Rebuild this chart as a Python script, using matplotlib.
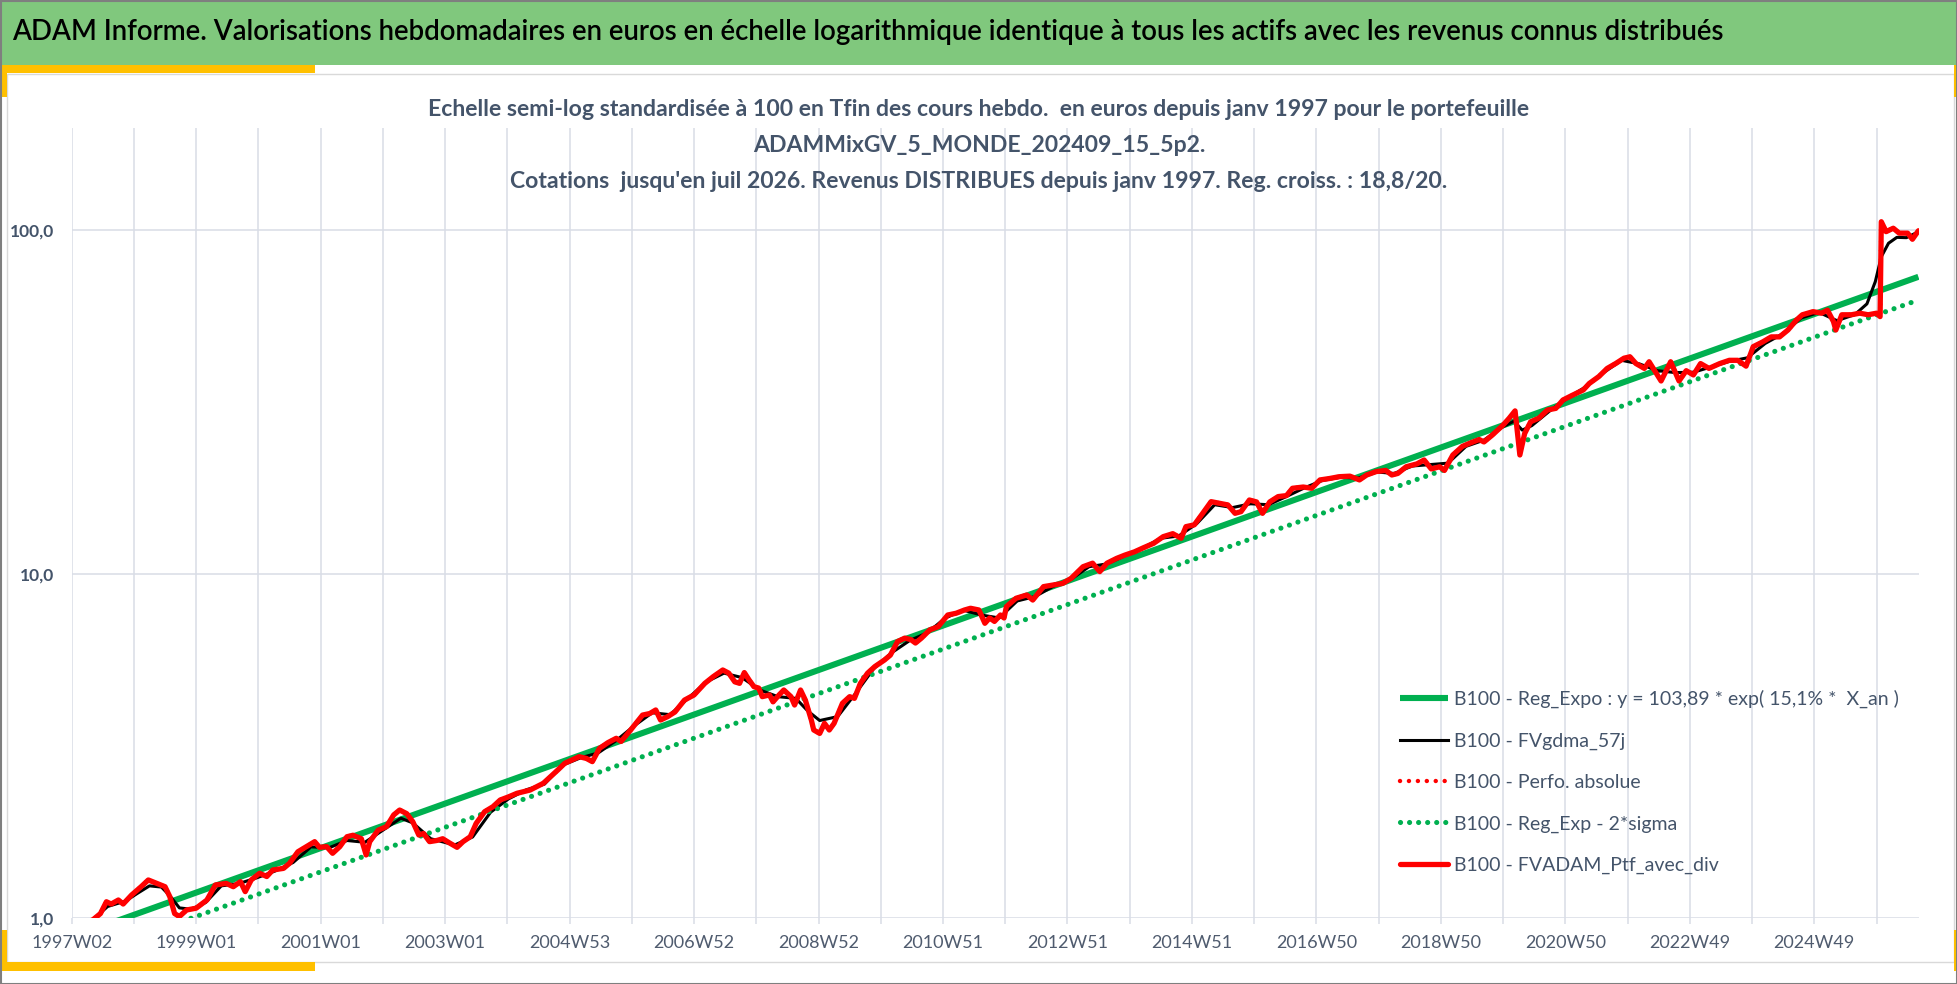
import matplotlib
matplotlib.use("Agg")
import matplotlib.pyplot as plt
from matplotlib.patches import Rectangle
from matplotlib.ticker import FixedLocator, FuncFormatter, NullLocator

W, H = 1958, 984

header_title = ("ADAM Informe. Valorisations hebdomadaires en euros en échelle logarithmique "
                "identique à tous les actifs avec les revenus connus distribués")
chart_title = [
    "Echelle semi-log standardisée à 100 en Tfin des cours hebdo.  en euros depuis janv 1997 pour le portefeuille",
    "ADAMMixGV_5_MONDE_202409_15_5p2.",
    "Cotations  jusqu'en juil 2026. Revenus DISTRIBUES depuis janv 1997. Reg. croiss. : 18,8/20.",
]

week_labels = ["1997W02", "1999W01", "2001W01", "2003W01", "2004W53", "2006W52", "2008W52",
               "2010W51", "2012W51", "2014W51", "2016W50", "2018W50", "2020W50", "2022W49",
               "2024W49"]
y_ticks = [1, 10, 100]

legend_labels = [
    "B100 - Reg_Expo : y = 103,89 * exp( 15,1% *  X_an )",
    "B100 - FVgdma_57j",
    "B100 - Perfo. absolue",
    "B100 - Reg_Exp - 2*sigma",
    "B100 - FVADAM_Ptf_avec_div",
]

# regression lines (straight on the log scale): first and last week
reg_weeks = [0, 1543]
reg_expo = [0.88, 73.1]
reg_sigma = [0.75, 62.6]

# portfolio, weekly index (week 0 = 1997W02)
ptf_weeks = [
    0, 8, 13, 18, 24, 29, 33, 39, 43, 50, 58, 64, 71, 78, 82, 86, 90, 96, 104, 113,
    120, 129, 135, 141, 145, 150, 157, 163, 168, 177, 182, 189, 196, 203, 207, 213, 218, 224, 230, 235,
    242, 246, 249, 256, 263, 269, 274, 280, 285, 290, 294, 299, 305, 310, 316, 322, 327, 333, 338, 345,
    352, 358, 365, 372, 383, 394, 406, 412, 424, 430, 435, 441, 448, 455, 459, 467, 477, 483, 488, 492,
    498, 504, 512, 520, 529, 536, 544, 549, 554, 558, 562, 566, 570, 574, 577, 583, 586, 591, 595, 601,
    604, 609, 613, 618, 620, 625, 629, 633, 637, 644, 650, 654, 659, 665, 671, 679, 684, 690, 696, 701,
    705, 710, 717, 724, 732, 739, 746, 751, 758, 763, 767, 771, 776, 779, 781, 789, 798, 803, 812, 820,
    828, 835, 845, 853, 859, 865, 873, 880, 888, 895, 904, 912, 920, 927, 931, 938, 945, 952, 959, 966,
    972, 977, 984, 990, 995, 1001, 1008, 1015, 1020, 1029, 1036, 1043, 1051, 1059, 1068, 1076, 1082, 1090, 1098, 1103,
    1108, 1115, 1124, 1130, 1136, 1143, 1147, 1154, 1162, 1168, 1176, 1180, 1187, 1196, 1201, 1206, 1210, 1214, 1219, 1226,
    1233, 1240, 1246, 1254, 1263, 1268, 1276, 1283, 1290, 1297, 1302, 1307, 1314, 1318, 1324, 1328, 1336, 1343, 1349, 1355,
    1361, 1368, 1377, 1385, 1392, 1399, 1405, 1413, 1420, 1427, 1434, 1441, 1446, 1455, 1462, 1467, 1472, 1474, 1479, 1487,
    1494, 1501, 1508, 1511, 1512, 1516, 1522, 1527, 1534, 1538, 1543,
]
ptf_values = [
    0.92, 0.95, 0.97, 0.99, 1.03, 1.115, 1.098, 1.128, 1.098, 1.166, 1.233, 1.29, 1.261, 1.233, 1.153, 1.03, 1.01, 1.055, 1.068, 1.128,
    1.247, 1.261, 1.233, 1.275, 1.193, 1.29, 1.349, 1.32, 1.379, 1.394, 1.442, 1.558, 1.612, 1.667, 1.605, 1.612, 1.542, 1.612, 1.723, 1.74,
    1.70, 1.525, 1.667, 1.80, 1.843, 1.993, 2.06, 2.01, 1.905, 1.743, 1.76, 1.667, 1.68, 1.70, 1.65, 1.605, 1.667, 1.723, 1.885, 2.037,
    2.107, 2.203, 2.25, 2.304, 2.355, 2.463, 2.69, 2.817, 2.944, 2.91, 2.848, 3.113, 3.234, 3.33, 3.26, 3.52, 3.89, 3.93, 4.025, 3.763,
    3.85, 3.97, 4.30, 4.45, 4.81, 5.03, 5.26, 5.15, 4.86, 4.81, 5.17, 4.92, 4.705, 4.66, 4.40, 4.45, 4.25, 4.45, 4.60, 4.40,
    4.16, 4.60, 4.30, 3.763, 3.52, 3.44, 3.68, 3.52, 3.68, 4.21, 4.40, 4.35, 4.81, 5.15, 5.38, 5.62, 5.81, 6.36, 6.51, 6.45,
    6.30, 6.51, 6.88, 7.03, 7.60, 7.69, 7.86, 7.95, 7.86, 7.19, 7.45, 7.28, 7.60, 7.45, 8.04, 8.50, 8.69, 8.40, 9.19, 9.29,
    9.39, 9.71, 10.5, 10.75, 10.16, 10.75, 11.1, 11.35, 11.6, 11.9, 12.28, 12.84, 13.1, 12.7, 13.73, 13.9, 15.01, 16.23, 16.06, 15.88,
    15.01, 15.18, 16.41, 16.2, 15.01, 16.2, 16.79, 16.9, 17.75, 17.9, 17.75, 18.77, 18.95, 19.18, 19.25, 18.77, 19.4, 19.85, 20.0, 19.4,
    19.6, 20.5, 20.9, 21.45, 20.2, 20.5, 20.0, 22.18, 23.5, 23.99, 24.6, 24.2, 25.35, 27.1, 28.35, 29.8, 22.18, 25.6, 27.7, 28.4,
    29.97, 30.3, 32.05, 33.1, 34.28, 35.8, 37.5, 39.6, 40.9, 42.4, 42.8, 40.9, 39.6, 41.4, 38.3, 36.4, 41.4, 36.4, 39.0, 37.9,
    40.9, 39.6, 40.9, 41.8, 41.8, 40.2, 45.8, 47.3, 48.9, 48.9, 51.2, 54.7, 56.7, 57.9, 57.3, 58.5, 54.2, 51.2, 56.7, 56.7,
    57.3, 56.7, 57.3, 56.0, 105.7, 98.9, 101.2, 97.9, 97.9, 94.0, 99.5,
]

# 57-day smoothed valuation
gdma_weeks = [
    0, 18, 30, 45, 55, 65, 75, 82, 90, 100, 112, 125, 140, 155, 170, 185, 200, 215, 230, 245,
    260, 275, 285, 300, 320, 335, 350, 365, 380, 395, 410, 425, 440, 455, 470, 485, 500, 515, 530, 545,
    560, 575, 590, 605, 615, 625, 640, 655, 670, 685, 700, 715, 730, 745, 760, 775, 790, 805, 820, 835,
    850, 865, 880, 895, 910, 925, 940, 955, 970, 985, 1000, 1015, 1030, 1045, 1060, 1075, 1090, 1105, 1120, 1135,
    1150, 1165, 1180, 1195, 1205, 1212, 1220, 1235, 1250, 1265, 1280, 1295, 1310, 1325, 1340, 1355, 1370, 1385, 1400, 1415,
    1430, 1445, 1460, 1475, 1490, 1500, 1507, 1512, 1518, 1525, 1533, 1543,
]
gdma_values = [
    0.93, 0.99, 1.08, 1.12, 1.18, 1.24, 1.23, 1.16, 1.07, 1.06, 1.11, 1.24, 1.26, 1.31, 1.37, 1.45, 1.61, 1.60, 1.68, 1.66,
    1.80, 1.95, 1.89, 1.70, 1.63, 1.72, 2.03, 2.22, 2.36, 2.45, 2.78, 2.92, 3.02, 3.28, 3.62, 3.95, 3.90, 4.35, 4.85, 5.15,
    5.0, 4.6, 4.4, 4.35, 4.0, 3.75, 3.85, 4.5, 5.3, 5.9, 6.4, 6.75, 7.45, 7.85, 7.6, 7.45, 8.35, 8.6, 9.2, 9.65,
    10.5, 10.7, 11.3, 11.9, 12.7, 12.9, 14.0, 15.9, 15.6, 16.0, 15.9, 16.8, 17.8, 18.7, 19.1, 19.0, 19.8, 19.6, 20.6, 20.8,
    21.0, 23.5, 24.5, 26.7, 27.8, 26.2, 27.0, 29.8, 32.5, 35.0, 38.5, 41.8, 40.8, 39.0, 38.5, 38.6, 40.0, 41.5, 42.5, 46.8,
    50.0, 55.5, 57.6, 54.5, 56.8, 61.0, 70.8, 83.6, 91.5, 95.2, 95.0, 98.8,
]

plt.rcParams['font.family'] = ['Lato', 'DejaVu Sans']

GREEN = '#00B050'
RED = '#FF0000'
GRID = '#D9DDE6'
TXT = '#44546A'

fig = plt.figure(figsize=(W / 100, H / 100), dpi=100)
renderer = fig.canvas.get_renderer()


def rect(x0, y0, x1, y1, **kw):
    kw.setdefault('zorder', -5)
    r = Rectangle((x0 / W, 1 - y1 / H), (x1 - x0) / W, (y1 - y0) / H,
                  transform=fig.transFigure, **kw)
    fig.add_artist(r)


def fit(t, width_px):
    bb = t.get_window_extent(renderer)
    t.set_fontsize(t.get_fontsize() * width_px / bb.width)


# frame, header band and yellow corner marks
rect(0, 0, W, 65, fc='#80C87D', ec='none')
rect(7, 74, 1954, 962, fc='white', ec='#D9D9D9', lw=1)
rect(0, 65, 315, 73, fc='#FFC000', ec='none', zorder=-4)
rect(0, 65, 7, 97, fc='#FFC000', ec='none', zorder=-4)
rect(0, 962, 315, 971, fc='#FFC000', ec='none', zorder=-4)
rect(0, 930, 7, 971, fc='#FFC000', ec='none', zorder=-4)
rect(1954, 65, 1958, 97, fc='#FFC000', ec='none', zorder=-4)
rect(1954, 930, 1958, 971, fc='#FFC000', ec='none', zorder=-4)
rect(0.5, 0.5, W - 0.5, H - 0.5, fc='none', ec='#7F7F7F', lw=1.5, zorder=10)

ht = fig.text(12 / W, 1 - 32 / H, header_title, ha='left', va='center',
              fontsize=20, fontweight='semibold', color='black')
fit(ht, 1716)

tts = []
for i, line in enumerate(chart_title):
    tts.append(fig.text(979 / W, 1 - (110 + 36 * i) / H, line, ha='center', va='center',
                        fontsize=18, fontweight='bold', color=TXT))
fit(tts[0], 1102)
for t in tts[1:]:
    t.set_fontsize(tts[0].get_fontsize())

# legend text size: first label spans ~447 px
probe = fig.text(0, 0, legend_labels[0], fontsize=14)
fit(probe, 447)
leg_fs = probe.get_fontsize()
leg_h = probe.get_window_extent(renderer).height
probe.remove()
leg_fs_px = leg_fs * 100 / 72

x0, x1, ytop, ybot = 71.7, 1919, 128, 918
ax = fig.add_axes([x0 / W, 1 - ybot / H, (x1 - x0) / W, (ybot - ytop) / H])
ax.set_facecolor('none')
ax.set_yscale('log')
ax.set_xlim(0, 1543.5)
ax.set_ylim(1, 10 ** ((ybot - ytop) / 344))

l1, = ax.plot(reg_weeks, reg_expo, color=GREEN, lw=4.4, solid_capstyle='butt', zorder=2)
l2, = ax.plot(gdma_weeks, gdma_values, color='black', lw=2.2, solid_joinstyle='round', zorder=3)
l3, = ax.plot(ptf_weeks, ptf_values, color=RED, lw=3.2, linestyle=(0, (0.01, 2.0)),
              dash_capstyle='round', zorder=4)
l4, = ax.plot(reg_weeks, reg_sigma, color=GREEN, lw=3.7, linestyle=(0, (0.01, 1.75)),
              dash_capstyle='round', zorder=5)
l5, = ax.plot(ptf_weeks, ptf_values, color=RED, lw=3.8, solid_joinstyle='round',
              solid_capstyle='round', zorder=6)


def week_fmt(v, p):
    k = int(round(v))
    if k % 104 == 0 and k // 104 < len(week_labels):
        return week_labels[k // 104]
    return ''


ax.xaxis.set_major_locator(FixedLocator(list(range(0, 1544, 52))))
ax.xaxis.set_major_formatter(FuncFormatter(week_fmt))
ax.yaxis.set_major_locator(FixedLocator(y_ticks))
ax.yaxis.set_minor_locator(NullLocator())
ax.yaxis.set_major_formatter(FuncFormatter(lambda v, p: f"{v:.1f}".replace('.', ',')))

ax.grid(True, color=GRID, lw=1.1)
ax.set_axisbelow(True)
for s in ax.spines.values():
    s.set_visible(False)
ax.tick_params(axis='x', length=4.3, width=1.1, color=GRID, pad=8,
               labelsize=13, labelcolor='#4F5B6E')
ax.tick_params(axis='y', length=0, pad=12.7, labelsize=12.5, labelcolor=TXT)
for lab in ax.get_yticklabels():
    lab.set_fontweight('bold')

row_pitch = 42.6
ax.legend([l1, l2, l3, l4, l5], legend_labels, loc='upper left',
          bbox_to_anchor=(1400 / W, 1 - (699 - leg_h / 2) / H), bbox_transform=fig.transFigure,
          frameon=False, fontsize=leg_fs, handlelength=48 / leg_fs_px,
          handletextpad=6 / leg_fs_px, labelspacing=(row_pitch - leg_h) / leg_fs_px,
          borderpad=0, borderaxespad=0, labelcolor=TXT)

fig.savefig('out.png', dpi=100)
